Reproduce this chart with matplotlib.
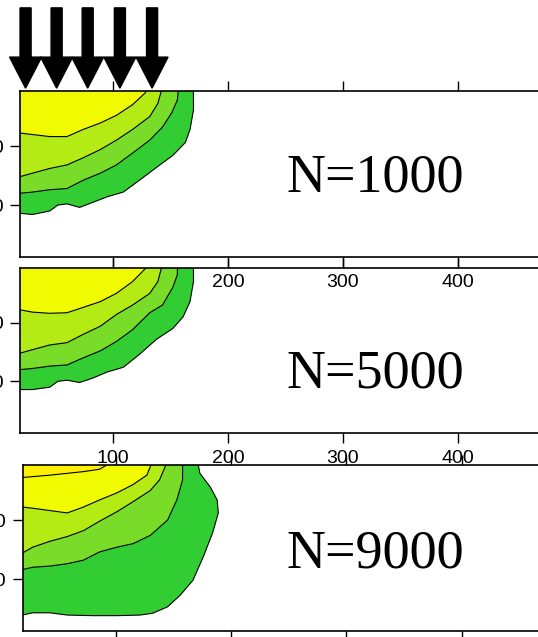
import matplotlib.pyplot as plt

plt.rcParams["font.family"] = ["Liberation Sans", "DejaVu Sans"]

labels = ["N=1000", "N=5000", "N=9000"]
x_ticks = [100, 200, 300, 400]
y_ticks = [50, 100]
arrow_x = [24, 51, 78, 106, 134]

# contour boundaries (x, depth), outermost first
n1000_x = [
    [19, 30, 45, 52, 60, 71, 83, 95, 109, 123, 138, 152, 163, 167, 170, 170],
    [19, 30, 45, 60, 74, 89, 103, 117, 132, 143, 151, 156, 157],
    [19, 30, 45, 60, 74, 89, 103, 117, 132, 139, 143],
    [19, 45, 60, 74, 89, 103, 117, 128, 130],
]
n1000_y = [
    [107, 108, 105, 100, 99, 102, 97.5, 93, 89, 79, 68, 58, 47, 36, 19.5, 0],
    [90, 89, 87, 86, 79, 73, 66, 56, 45, 34, 22, 11, 0],
    [76, 73, 69, 66, 60, 53, 45, 36, 25, 14, 0],
    [39, 42, 42, 36, 30.5, 24, 15, 5, 0],
]

n5000_x = [
    [19, 30, 45, 52, 60, 71, 83, 95, 109, 123, 138, 152, 161, 167, 170, 170],
    [19, 30, 45, 60, 74, 89, 103, 117, 132, 143, 152, 156, 156],
    [19, 30, 45, 60, 74, 89, 103, 117, 132, 139, 143],
    [19, 30, 45, 60, 74, 89, 103, 117, 128, 130],
]
n5000_y = [
    [107, 107, 105, 100, 99, 101, 97, 92, 88, 77, 64, 55, 45, 32, 15, 0],
    [90, 89, 87, 86, 80, 74, 66, 56, 41.5, 35, 20, 9, 0],
    [76, 73, 69, 67, 60, 53, 43, 35, 25, 15, 0],
    [39, 41, 42, 41.5, 37, 32, 25, 15, 4, 0],
]

n9000_x = [
    [19, 28, 43, 58, 80, 101, 121, 132, 145, 156, 167, 176, 184, 189, 188, 182, 173, 171],
    [19, 28, 43, 58, 72, 86, 101, 115, 130, 145, 153, 158, 158],
    [19, 28, 43, 58, 72, 86, 101, 115, 130, 138, 145],
    [19, 28, 43, 58, 72, 86, 101, 115, 127, 132],
    [19, 43, 72, 86, 98],
]
n9000_y = [
    [130.5, 128.6, 128.6, 130.5, 131, 131, 130.5, 129, 123.5, 113.6, 101, 81, 61, 44, 33, 22, 10.4, 0],
    [92, 90, 89, 87, 84, 77, 73, 70, 63, 50, 33, 16, 0],
    [78, 73, 68, 64, 59, 51, 43, 34.5, 25, 16, 0],
    [39, 40, 42, 44, 39, 33, 27, 20, 12, 0],
    [14, 12, 9, 7, 0],
]

colors = ["#32cd32", "#78dc28", "#b4eb14", "#f0fa00", "#fff000"]

fig = plt.figure(figsize=(5.38, 6.37), dpi=100)
W, H = 538, 637

# axes boxes in pixels: left, top, bottom, px per x unit
boxes = [(20.4, 91, 257, 1.15), (20.4, 268, 433, 1.15), (22.9, 465, 631, 1.153)]
xlim = (19.5, 480)
ylim = (144, 3.4)


def draw_panel(ax, xs, ys):
    for cx, cy, col in zip(xs, ys, colors):
        px = [0] + cx + [cx[-1], 0]
        py = [cy[0]] + cy + [-5, -5]
        ax.fill(px, py, color=col, lw=0)
        ax.plot(cx, cy, color="black", lw=0.8)


axes = []
for left, top, bottom, scale in boxes:
    width = (xlim[1] - xlim[0]) * scale
    ax = fig.add_axes([left / W, 1 - bottom / H, width / W, (bottom - top) / H])
    ax.set_facecolor("none")
    ax.set_xlim(xlim)
    ax.set_ylim(ylim)
    ax.set_xticks(x_ticks)
    ax.set_yticks(y_ticks)
    ax.tick_params(direction="out", length=7, width=1, top=True,
                   labelsize=14, pad=5)
    for s in ax.spines.values():
        s.set_linewidth(1.2)
    axes.append(ax)

draw_panel(axes[0], n1000_x, n1000_y)
draw_panel(axes[1], n5000_x, n5000_y)
draw_panel(axes[2], n9000_x, n9000_y)

for x in arrow_x:
    axes[0].arrow(x, -67, 0, 68, width=9.6, head_width=27.8, head_length=26.3,
                  length_includes_head=True, color="black", clip_on=False)

baselines = [192, 387, 567]
for lab, b in zip(labels, baselines):
    fig.text(375.5 / W, 1 - b / H, lab, ha="center", va="baseline",
             fontsize=39, family="Liberation Serif")

fig.savefig("out.png", dpi=100)
